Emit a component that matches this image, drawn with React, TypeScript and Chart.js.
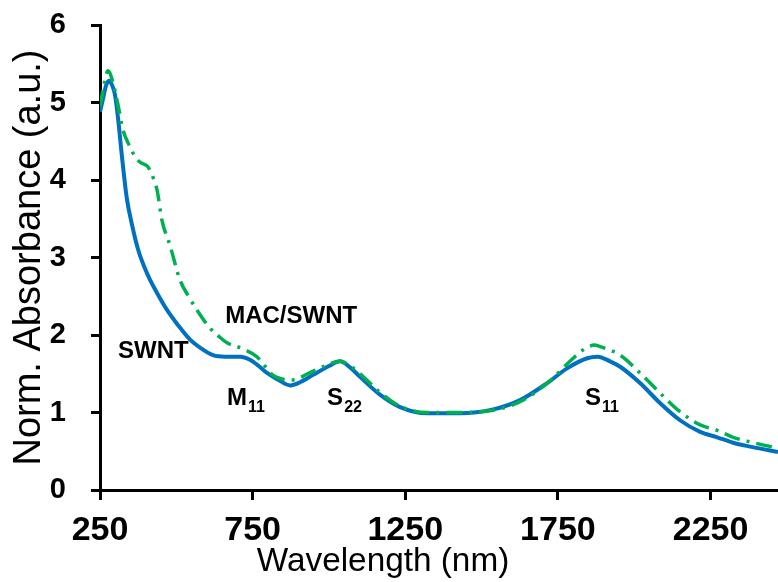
import React, { useEffect, useRef } from "react";
import { Chart, registerables } from "chart.js";

Chart.register(...registerables);

// SWNT (solid blue)
const swntWl = [250, 260, 270, 280, 290, 299, 309, 322, 338, 355, 375, 395, 414, 440, 470, 505, 545, 580, 620, 660, 709, 741, 770, 797, 835, 873, 905, 950, 1000, 1036, 1070, 1102, 1167, 1233, 1321, 1430, 1538, 1626, 1715, 1780, 1846, 1880, 1921, 1954, 2019, 2085, 2150, 2216, 2272, 2324, 2380, 2471];
const swntAbs = [4.88, 5.05, 5.22, 5.28, 5.22, 5.10, 4.80, 4.30, 3.76, 3.42, 3.10, 2.88, 2.71, 2.52, 2.32, 2.13, 1.94, 1.83, 1.74, 1.72, 1.72, 1.68, 1.60, 1.51, 1.42, 1.35, 1.39, 1.49, 1.60, 1.66, 1.58, 1.46, 1.23, 1.07, 0.99, 0.99, 1.04, 1.16, 1.38, 1.57, 1.70, 1.72, 1.66, 1.59, 1.38, 1.12, 0.90, 0.75, 0.68, 0.61, 0.56, 0.49];

// MAC/SWNT (green dash-dot)
const macWl = [250, 262, 276, 293, 310, 325, 348, 365, 381, 407, 425, 437, 453, 479, 512, 540, 568, 610, 640, 666, 719, 764, 790, 817, 850, 882, 930, 980, 1036, 1070, 1102, 1167, 1233, 1321, 1430, 1538, 1626, 1715, 1800, 1833, 1870, 1888, 1954, 2019, 2085, 2150, 2216, 2272, 2324, 2380, 2471];
const macAbs = [4.95, 5.20, 5.41, 5.25, 4.95, 4.65, 4.43, 4.30, 4.23, 4.17, 4.02, 3.87, 3.48, 3.16, 2.71, 2.50, 2.32, 2.09, 1.98, 1.90, 1.82, 1.72, 1.60, 1.48, 1.43, 1.42, 1.50, 1.59, 1.66, 1.60, 1.50, 1.26, 1.08, 1.00, 1.00, 1.03, 1.14, 1.38, 1.70, 1.81, 1.87, 1.85, 1.74, 1.51, 1.25, 1.01, 0.84, 0.77, 0.68, 0.62, 0.54];

const xTicks = [250, 750, 1250, 1750, 2250];
const yTicks = [0, 1, 2, 3, 4, 5, 6];

const xTitle = "Wavelength (nm)";
const yTitle = "Norm. Absorbance (a.u.)";

// Annotation labels: text, subscript, anchor (wavelength, absorbance) of left/baseline
const labelText = ["MAC/SWNT", "SWNT", "M", "S", "S"];
const labelSub = ["", "", "11", "22", "11"];
const labelWl = [660, 309, 666, 994, 1839];
const labelAbs = [2.155, 1.70, 1.10, 1.10, 1.10];

const FONT = "'Liberation Sans', Arial, Helvetica, sans-serif";

const labelPlugin = {
  id: "specLabels",
  afterDraw(chart: any) {
    const { ctx, scales } = chart;
    ctx.save();
    ctx.fillStyle = "#000";
    ctx.textBaseline = "alphabetic";
    ctx.textAlign = "left";
    for (let i = 0; i < labelText.length; i++) {
      const x = scales.x.getPixelForValue(labelWl[i]);
      const y = scales.y.getPixelForValue(labelAbs[i]);
      ctx.font = `bold 24px ${FONT}`;
      ctx.fillText(labelText[i], x, y);
      if (labelSub[i]) {
        const w = ctx.measureText(labelText[i]).width;
        ctx.font = `bold 16px ${FONT}`;
        ctx.fillText(labelSub[i], x + w + 1, y + 7);
      }
    }
    // x-axis title, centred where the source figure has it
    ctx.font = `34px ${FONT}`;
    ctx.textAlign = "center";
    ctx.translate(383, 571);
    ctx.scale(0.98, 1);
    ctx.fillText(xTitle, 0, 0);
    ctx.restore();
  },
};

export default function App() {
  const ref = useRef<HTMLCanvasElement | null>(null);
  useEffect(() => {
    document.body.style.margin = "0";
    const canvas = ref.current;
    if (!canvas) return;
    const chart = new Chart(canvas, {
      type: "line",
      data: {
        datasets: [
          {
            label: "MAC/SWNT",
            data: macWl.map((w, i) => ({ x: w, y: macAbs[i] })),
            borderColor: "#00B050",
            borderWidth: 3.5,
            borderDash: [16, 7, 3, 7],
            pointRadius: 0,
            cubicInterpolationMode: "monotone",
            fill: false,
          },
          {
            label: "SWNT",
            data: swntWl.map((w, i) => ({ x: w, y: swntAbs[i] })),
            borderColor: "#0070C0",
            borderWidth: 4,
            pointRadius: 0,
            cubicInterpolationMode: "monotone",
            fill: false,
          },
        ],
      },
      options: {
        animation: false,
        responsive: false,
        maintainAspectRatio: false,
        layout: { padding: { top: 25, right: 0, left: 0, bottom: 0 } },
        plugins: { legend: { display: false }, tooltip: { enabled: false } },
        scales: {
          x: {
            type: "linear",
            min: 250,
            max: 2471,
            afterBuildTicks: (s: any) => {
              s.ticks = xTicks.map((v) => ({ value: v }));
            },
            afterFit: (s: any) => {
              s.height = 92;
              s.paddingLeft = 0;
              s.paddingRight = 0;
            },
            grid: {
              drawOnChartArea: false,
              drawTicks: true,
              tickLength: 10,
              color: "#000",
              lineWidth: 3,
              tickWidth: 3,
              tickColor: "#000",
            },
            border: { display: true, color: "#000", width: 3 },
            ticks: {
              color: "#000",
              font: { family: FONT, size: 34, weight: "bold" },
              padding: 10,
              maxRotation: 0,
              autoSkip: false,
              callback: (v: any) => String(v),
            },
            title: { display: false, text: xTitle },
          },
          y: {
            type: "linear",
            min: 0,
            max: 6,
            afterBuildTicks: (s: any) => {
              s.ticks = yTicks.map((v) => ({ value: v }));
            },
            afterFit: (s: any) => {
              s.width = 100;
              s.paddingTop = 0;
              s.paddingBottom = 0;
            },
            grid: {
              drawOnChartArea: false,
              drawTicks: true,
              tickLength: 9,
              color: "#000",
              lineWidth: 3,
              tickWidth: 3,
              tickColor: "#000",
            },
            border: { display: true, color: "#000", width: 3 },
            ticks: {
              color: "#000",
              font: { family: FONT, size: 29, weight: "bold" },
              padding: 25,
              callback: (v: any) => String(v),
            },
            title: {
              display: true,
              text: yTitle,
              color: "#000",
              font: { family: FONT, size: 38 },
              padding: { top: 7, bottom: 0 },
            },
          },
        },
      } as any,
      plugins: [labelPlugin],
    });
    return () => chart.destroy();
  }, []);
  return (
    <div style={{ position: "absolute", left: 0, top: 0, width: 778, height: 582, background: "#fff" }}>
      <canvas ref={ref} width={778} height={582} style={{ width: 778, height: 582 }} />
    </div>
  );
}
